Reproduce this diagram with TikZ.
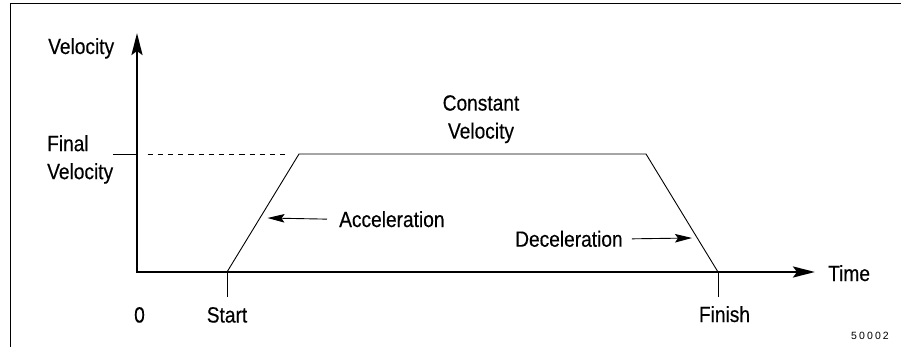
\documentclass[tikz,border=0pt]{standalone}
\usepackage{fontspec}
\setmainfont{Liberation Sans}[FakeStretch=0.87,FakeBold=0.35]
\newfontfamily\codefont{Liberation Sans}[LetterSpace=20]
\usetikzlibrary{arrows.meta}
\begin{document}
\begin{tikzpicture}[x=1pt,y=-1pt,
  lbl/.style={inner sep=0pt,font=\fontsize{22}{28}\selectfont},
  axis/.style={line width=2.5pt,line join=miter,
    {Stealth[length=22pt,width=11pt,inset=4pt]}-{Stealth[length=22pt,width=11pt,inset=4pt]}},
  thin/.style={line width=0.9pt},
  pointer/.style={line width=0.9pt,-{Stealth[length=17pt,width=8.5pt,inset=3pt]}}]
\useasboundingbox (0,0) rectangle (901,347);

% frame edges
\draw[thin] (10.7,347) -- (10.7,3.3) -- (901,3.3);

% key points of the profile
\coordinate (ytip) at (137,33);
\coordinate (o) at (137,272);
\coordinate (xtip) at (815,272);
\coordinate (s) at (227,272);
\coordinate (a) at (299,154);
\coordinate (b) at (646,154);
\coordinate (f) at (718,272);
\coordinate (fv) at (137,154);
\coordinate (fvl) at (113,154);
\coordinate (stick) at (227,297);
\coordinate (ftick) at (718,297);
\coordinate (acctip) at (267.5,218);
\coordinate (dectip) at (692,238);

% axes
\draw[axis] (ytip) -- (o) -- (xtip);

% velocity profile
\draw[thin,line join=miter] (s) -- (a) -- (b) -- (f);

% final velocity level
\draw[thin] (fvl) -- (fv);
\draw[thin,dash pattern=on 5.2pt off 5pt] ([xshift=10.5pt]fv) -- ([xshift=-13pt]a);

% start / finish ticks
\draw[thin] (s) -- (stick);
\draw[thin] (f) -- (ftick);

% labels
\node[lbl,anchor=base west] (vel) at (48,54) {Velocity};
\node[lbl,anchor=north west,align=left] (final) at (47,135) {Final\\Velocity};
\node[lbl,anchor=north,align=center] (cv) at (481,95) {Constant\\Velocity};
\node[lbl,anchor=base west] (acc) at (339,227) {Acceleration};
\node[lbl,anchor=base west] (dec) at (515,246.7) {Deceleration};
\node[lbl,anchor=base west] (time) at (828,281) {Time};
\node[lbl,anchor=base] (zero) at (139.5,322.5) {0};
\node[lbl,anchor=base] (start) at (227,322.5) {Start};
\node[lbl,anchor=base] (finish) at (724.5,322) {Finish};
\node[inner sep=0pt,anchor=base,font=\codefont\fontsize{10.5}{12}\selectfont] (code) at (870,339) {50002};

% pointers
\draw[pointer] ([xshift=-12pt]acc.west) -- (acctip);
\draw[pointer] ([xshift=9pt]dec.east) -- (dectip);
\end{tikzpicture}
\end{document}
